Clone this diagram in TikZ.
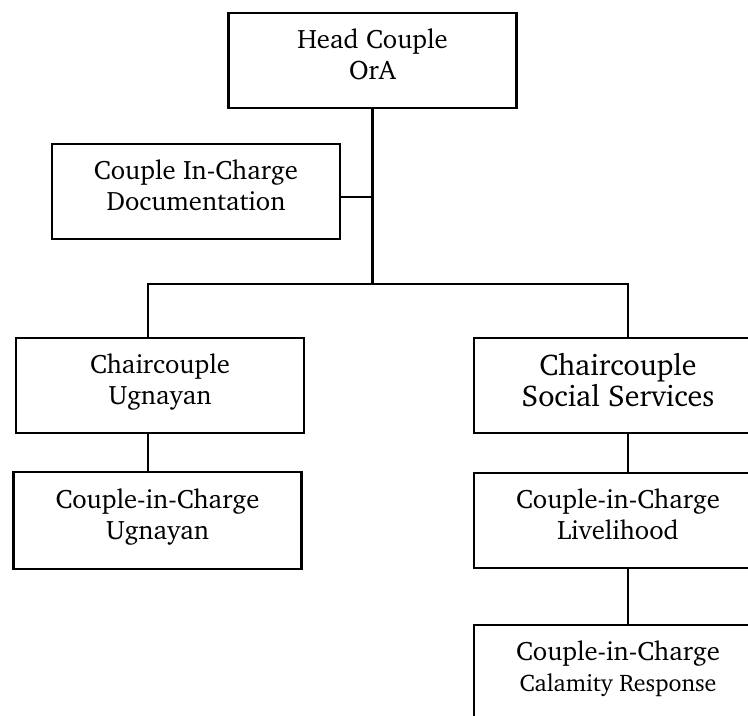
\documentclass[tikz,border=0pt]{standalone}
\usepackage[T1]{fontenc}
\usepackage{charter}
\usepackage{tikz}
\usetikzlibrary{positioning}

\tikzset{
    box/.style={draw, line width=2.2pt, align=center, inner sep=0pt,
        minimum width=216pt, minimum height=71.25pt, text depth=9pt,
        font=\fontsize{20}{23.25}\selectfont},
    wire/.style={line width=1.9pt},
}

\begin{document}
\begin{tikzpicture}[x=0.75pt,y=-0.75pt]
    \useasboundingbox (0,0) rectangle (748,715);
    \clip (0,0) rectangle (748,715);
    % boxes
    \node[box] (head) at (372.5,60.5) {Head Couple\\OrA};
    \node[box] (doc) at (196,191.5) {Couple In-Charge\\Documentation};
    \node[box] (chu) at (160,385.5) {Chaircouple\\Ugnayan};
    \node[box, minimum height=72.75pt] (cicu) at (157.5,520.5) {Couple-in-Charge\\Ugnayan};
    \node[box, font=\fontsize{22.5}{23.25}\selectfont] (css) at (618,385.5) {Chaircouple\\Social Services};
    \node[box] (liv) at (618,520.5) {Couple-in-Charge\\Livelihood};
    \node[box] (cal) at (618,672.5) {Couple-in-Charge\\{\fontsize{18}{20}\selectfont Calamity Response}};
    % connectors
    \coordinate (fork) at (372.5,284);
    \coordinate (lbar) at (148,284);
    \coordinate (rbar) at (628,284);
    \coordinate (dtap) at (372.5,197);
    \draw[wire] (head.south) -- (fork);
    \draw[wire] (dtap -| doc.east) -- (dtap);
    \draw[wire] (lbar |- chu.north) -- (lbar) -- (rbar) -- (rbar |- css.north);
    \draw[wire] (lbar |- chu.south) -- (lbar |- cicu.north);
    \draw[wire] (rbar |- css.south) -- (rbar |- liv.north);
    \draw[wire] (rbar |- liv.south) -- (rbar |- cal.north);
\end{tikzpicture}
\end{document}
